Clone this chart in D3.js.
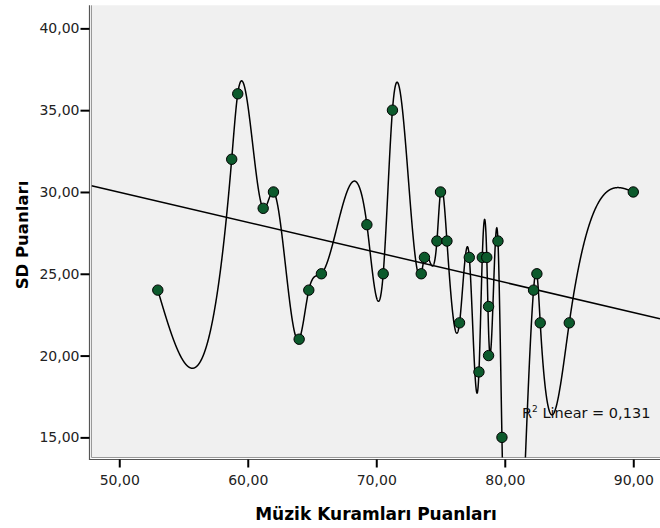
<!DOCTYPE html>
<meta charset="utf-8">
<title>SD - Muzik Kuramlari</title>
<style>
body {
  margin: 0;
  background: #fff;
  font-family: 'DejaVu Sans', sans-serif;
}
.axis .domain {
  display: none;
}
.axis .tick line {
  stroke: #000;
  stroke-width: 2;
}
.axis .tick text {
  font-family: 'DejaVu Sans', sans-serif;
  font-size: 14px;
  fill: #222;
}
.title {
  font-family: 'DejaVu Sans', sans-serif;
  font-weight: bold;
  fill: #000;
}
</style>
<body>
<svg width="660" height="528"></svg>
</body>
<script src="https://d3js.org/d3.v7.min.js"></script>
<script>
// Müzik Kuramları Puanları (x) and SD Puanları (y)
var mkScores = [53.00, 58.75, 59.22, 61.20, 62.00, 64.00, 64.75, 65.73, 69.27, 70.54,
                71.26, 73.50, 73.75, 74.72, 75.00, 75.50, 76.48, 77.24, 77.99, 78.25,
                78.60, 78.74, 78.74, 79.47, 79.78, 82.24, 82.50, 82.76, 85.02, 90.00];
var sdScores = [24, 32, 36, 29, 30, 21, 24, 25, 28, 25,
                35, 25, 26, 27, 30, 27, 22, 26, 19, 26,
                26, 23, 20, 27, 15, 24, 25, 22, 22, 30];
var xTicks = [50, 60, 70, 80, 90];
var yTicks = [15, 20, 25, 30, 35, 40];
var r2Label = "0,131";

var svg = d3.select("svg"),
    margin = {top: 5.3, right: 0, bottom: 70.5, left: 91.5},
    width = +svg.attr("width") - margin.left - margin.right,
    height = +svg.attr("height") - margin.top - margin.bottom;

var x = d3.scaleLinear()
    .domain([47.84, 92.08])
    .range([margin.left, margin.left + width]);

var y = d3.scaleLinear()
    .domain([13.77, 41.41])
    .range([margin.top + height, margin.top]);

var fmt = function(d) { return d3.format(".2f")(d).replace(".", ","); };

var data = mkScores.map(function(d, i) { return {x: d, y: sdScores[i]}; });

// plot background
svg.append("rect")
    .attr("x", margin.left)
    .attr("y", margin.top)
    .attr("width", width)
    .attr("height", height)
    .attr("fill", "#f0f0f0");

svg.append("clipPath")
    .attr("id", "plotclip")
  .append("rect")
    .attr("x", margin.left)
    .attr("y", margin.top)
    .attr("width", width)
    .attr("height", height);

// frame (double line left + bottom)
var bottomY = margin.top + height;
svg.append("line")
    .attr("x1", margin.left - 2).attr("x2", margin.left - 2)
    .attr("y1", margin.top).attr("y2", bottomY + 2.5)
    .attr("stroke", "#555").attr("stroke-width", 1.2);
svg.append("line")
    .attr("x1", margin.left).attr("x2", margin.left)
    .attr("y1", margin.top).attr("y2", bottomY)
    .attr("stroke", "#999").attr("stroke-width", 1);
svg.append("line")
    .attr("x1", margin.left - 2).attr("x2", 660)
    .attr("y1", bottomY + 2).attr("y2", bottomY + 2)
    .attr("stroke", "#555").attr("stroke-width", 1.2);
svg.append("line")
    .attr("x1", margin.left).attr("x2", 660)
    .attr("y1", bottomY).attr("y2", bottomY)
    .attr("stroke", "#999").attr("stroke-width", 1);

// axes
svg.append("g")
    .attr("class", "axis")
    .attr("transform", "translate(" + (margin.left - 2) + ",0)")
    .call(d3.axisLeft(y).tickValues(yTicks).tickFormat(fmt).tickSize(9).tickPadding(1));

svg.append("g")
    .attr("class", "axis")
    .attr("transform", "translate(0," + (bottomY + 2) + ")")
    .call(d3.axisBottom(x).tickValues(xTicks).tickFormat(fmt).tickSize(8).tickPadding(8));

// linear fit
var mx = d3.mean(data, function(d) { return d.x; }),
    my = d3.mean(data, function(d) { return d.y; }),
    sxy = d3.sum(data, function(d) { return (d.x - mx) * (d.y - my); }),
    sxx = d3.sum(data, function(d) { return (d.x - mx) * (d.x - mx); }),
    slope = sxy / sxx,
    icpt = my - slope * mx;

var xd = x.domain();
svg.append("line")
    .attr("clip-path", "url(#plotclip)")
    .attr("x1", x(xd[0])).attr("y1", y(icpt + slope * xd[0]))
    .attr("x2", x(xd[1])).attr("y2", y(icpt + slope * xd[1]))
    .attr("stroke", "#000")
    .attr("stroke-width", 1.5);

// interpolation line: natural cubic spline y(x), duplicate x averaged
var knots = Array.from(d3.rollup(data, function(v) { return d3.mean(v, function(d) { return d.y; }); },
    function(d) { return d.x; }))
    .sort(function(a, b) { return a[0] - b[0]; });
var kx = knots.map(function(k) { return k[0]; }),
    ky = knots.map(function(k) { return k[1]; });

function naturalSpline(xs, ys) {
  var n = xs.length, h = [], M = new Array(n).fill(0);
  for (var i = 0; i < n - 1; i++) h[i] = xs[i + 1] - xs[i];
  var a = [], b = [], c = [], r = [];
  for (i = 1; i < n - 1; i++) {
    a.push(h[i - 1]);
    b.push(2 * (h[i - 1] + h[i]));
    c.push(h[i]);
    r.push(6 * ((ys[i + 1] - ys[i]) / h[i] - (ys[i] - ys[i - 1]) / h[i - 1]));
  }
  var m = b.length;
  for (i = 1; i < m; i++) {
    var w = a[i] / b[i - 1];
    b[i] -= w * c[i - 1];
    r[i] -= w * r[i - 1];
  }
  var sol = new Array(m);
  sol[m - 1] = r[m - 1] / b[m - 1];
  for (i = m - 2; i >= 0; i--) sol[i] = (r[i] - c[i] * sol[i + 1]) / b[i];
  for (i = 0; i < m; i++) M[i + 1] = sol[i];
  return function(t) {
    var k = Math.max(0, Math.min(n - 2, d3.bisectRight(xs, t) - 1));
    var hk = h[k], A = xs[k + 1] - t, B = t - xs[k];
    return M[k] * A * A * A / (6 * hk) + M[k + 1] * B * B * B / (6 * hk) +
      (ys[k] / hk - M[k] * hk / 6) * A + (ys[k + 1] / hk - M[k + 1] * hk / 6) * B;
  };
}

var spl = naturalSpline(kx, ky);
var samples = d3.range(kx[0], kx[kx.length - 1], 0.01).concat([kx[kx.length - 1]])
    .map(function(t) { return [t, spl(t)]; });

svg.append("path")
    .datum(samples)
    .attr("clip-path", "url(#plotclip)")
    .attr("fill", "none")
    .attr("stroke", "#000")
    .attr("stroke-width", 1.5)
    .attr("d", d3.line()
        .x(function(d) { return x(d[0]); })
        .y(function(d) { return y(Math.max(-20, Math.min(80, d[1]))); }));

// points
svg.append("g")
  .selectAll("circle")
  .data(data)
  .enter().append("circle")
    .attr("cx", function(d) { return x(d.x); })
    .attr("cy", function(d) { return y(d.y); })
    .attr("r", 5.2)
    .attr("fill", "#0c5a2c")
    .attr("stroke", "#000")
    .attr("stroke-width", 1);

// R² label
var rt = svg.append("text")
    .attr("x", 522)
    .attr("y", 418)
    .attr("font-size", "14.5px")
    .attr("fill", "#111");
rt.append("tspan").text("R");
rt.append("tspan").attr("font-size", "9px").attr("dy", "-6").text("2");
rt.append("tspan").attr("dy", "6").text(" Linear = " + r2Label);

// axis titles
svg.append("text")
    .attr("class", "title")
    .attr("x", 376)
    .attr("y", 520)
    .attr("font-size", "17px")
    .attr("text-anchor", "middle")
    .text("Müzik Kuramları Puanları");

svg.append("text")
    .attr("class", "title")
    .attr("transform", "translate(28,235) rotate(-90)")
    .attr("font-size", "16.5px")
    .attr("text-anchor", "middle")
    .text("SD Puanları");
</script>
